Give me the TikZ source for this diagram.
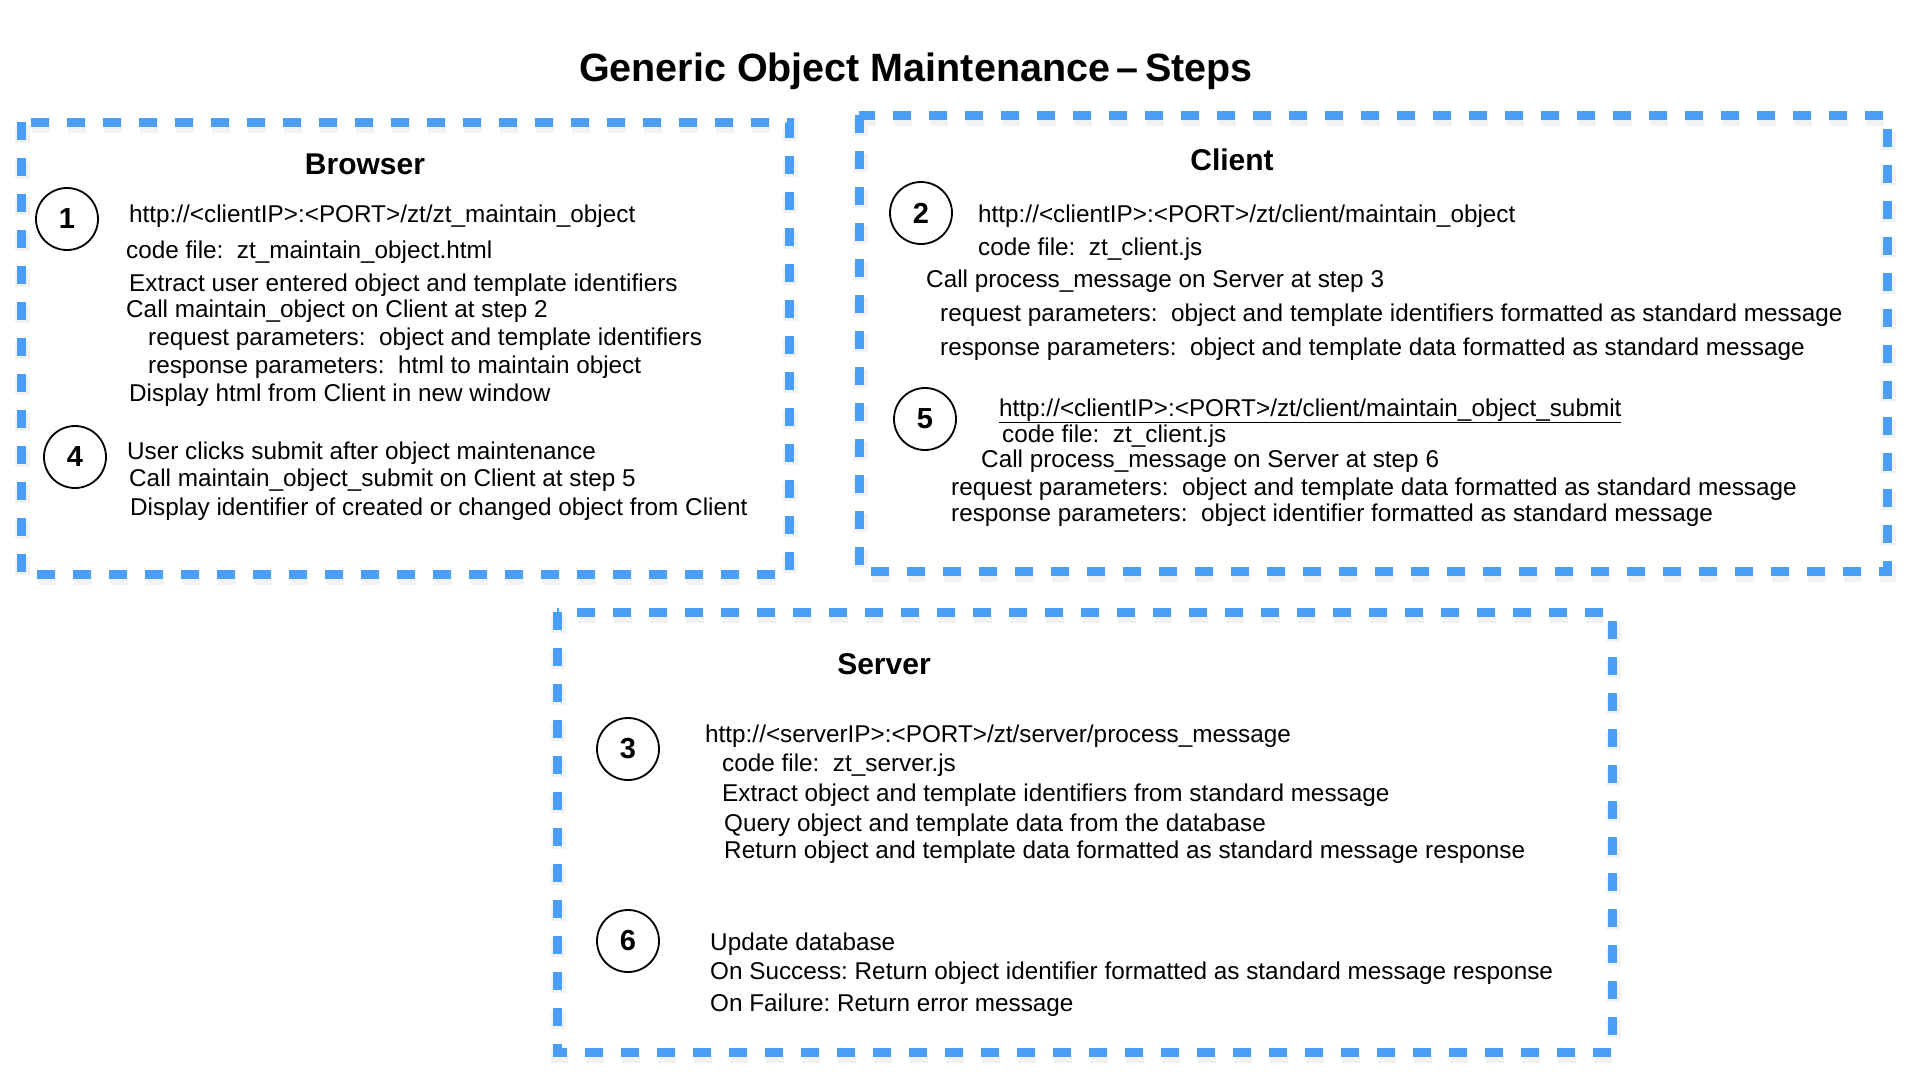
\documentclass[tikz,border=0pt]{standalone}
\usepackage{fontspec}
\setmainfont{Liberation Sans}
\definecolor{boxblue}{RGB}{74,158,245}
\frenchspacing
\begin{document}
\begin{tikzpicture}[x=1pt,y=-1pt,
    box/.style={draw=boxblue,line width=9pt,dash pattern=on 18pt off 18pt},
    boxshadow/.style={draw=black,opacity=0.05,line width=15pt,dash pattern=on 18pt off 18pt},
    num/.style={draw,circle,line width=1.8pt,minimum size=62pt,inner sep=0pt,font=\bfseries\fontsize{29}{29}\selectfont},
    head/.style={font=\bfseries\fontsize{30}{36}\selectfont},
    txt/.style={anchor=west,inner sep=0pt,yshift=-2pt,font=\fontsize{24.3}{28}\selectfont,text height=17pt,text depth=5pt}]
    \useasboundingbox (0,0) rectangle (1920,1080);
    % title
    \node[font=\bfseries\fontsize{39.5}{44}\selectfont] (title) at (916,71) {Generic Object Maintenance\,–\,Steps};
    % boxes
    \draw[boxshadow] (22,125) rectangle (790,577);
    \draw[boxshadow] (860,118) rectangle (1888,574);
    \draw[boxshadow] (558,615) rectangle (1613,1055);
    \draw[box] (21,122) rectangle (789,574);
    \draw[box] (859,115) rectangle (1887,571);
    \draw[box] (557,612) rectangle (1612,1052);
    % Browser
    \node[head] (browser) at (365,164) {Browser};
    \node[num] (n1) at (67,219) {1};
    \node[num] (n4) at (75,457) {4};
    \node[txt] (b1) at (129,214) {http://<clientIP>:<PORT>/zt/zt\_maintain\_object};
    \node[txt] (b2) at (126,250) {code file:\ \ zt\_maintain\_object.html};
    \node[txt] (b3) at (129,283) {Extract user entered object and template identifiers};
    \node[txt] (b4) at (126,309) {Call maintain\_object on Client at step 2};
    \node[txt] (b5) at (148,337) {request parameters:\ \ object and template identifiers};
    \node[txt] (b6) at (148,365) {response parameters:\ \ html to maintain object};
    \node[txt] (b7) at (129,393) {Display html from Client in new window};
    \node[txt] (b8) at (127,451) {User clicks submit after object maintenance};
    \node[txt] (b9) at (129,478) {Call maintain\_object\_submit on Client at step 5};
    \node[txt] (b10) at (130,507) {Display identifier of created or changed object from Client};
    % Client
    \node[head] (client) at (1232,160) {Client};
    \node[num] (n2) at (921,213) {2};
    \node[num] (n5) at (925,419) {5};
    \node[txt] (c1) at (978,214) {http://<clientIP>:<PORT>/zt/client/maintain\_object};
    \node[txt] (c2) at (978,247) {code file:\ \ zt\_client.js};
    \node[txt] (c3) at (926,279) {Call process\_message on Server at step 3};
    \node[txt] (c4) at (940,313) {request parameters:\ \ object and template identifiers formatted as standard message};
    \node[txt] (c5) at (940,347) {response parameters:\ \ object and template data formatted as standard message};
    \node[txt] (c6) at (999,408) {\underline{http://<clientIP>:<PORT>/zt/client/maintain\_object\_submit}};
    \node[txt] (c7) at (1002,434) {code file:\ \ zt\_client.js};
    \node[txt] (c8) at (981,459) {Call process\_message on Server at step 6};
    \node[txt] (c9) at (951,487) {request parameters:\ \ object and template data formatted as standard message};
    \node[txt] (c10) at (951,513) {response parameters:\ \ object identifier formatted as standard message};
    % Server
    \node[head] (server) at (884,664) {Server};
    \node[num] (n3) at (628,749) {3};
    \node[num] (n6) at (628,941) {6};
    \node[txt] (s1) at (705,734) {http://<serverIP>:<PORT>/zt/server/process\_message};
    \node[txt] (s2) at (722,763) {code file:\ \ zt\_server.js};
    \node[txt] (s3) at (722,793) {Extract object and template identifiers from standard message};
    \node[txt] (s4) at (724,823) {Query object and template data from the database};
    \node[txt] (s5) at (724,850) {Return object and template data formatted as standard message response};
    \node[txt] (s6) at (710,942) {Update database};
    \node[txt] (s7) at (710,971) {On Success: Return object identifier formatted as standard message response};
    \node[txt] (s8) at (710,1003) {On Failure: Return error message};
\end{tikzpicture}
\end{document}
